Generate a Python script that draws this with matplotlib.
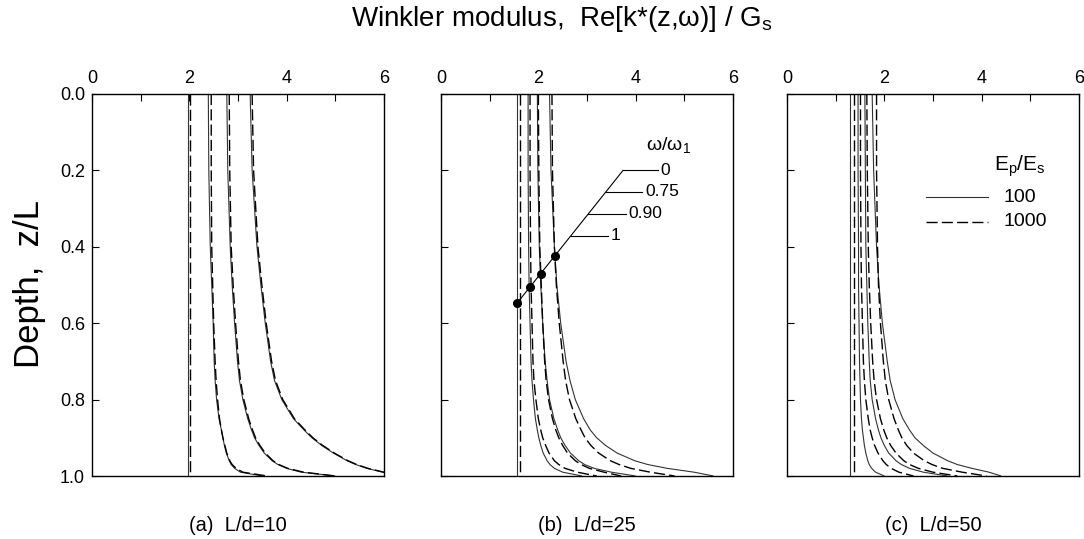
import numpy as np
import matplotlib.pyplot as plt
from matplotlib.ticker import MultipleLocator

plt.rcParams['font.family'] = ['Liberation Sans', 'DejaVu Sans']

# depth grid, z/L
z = [0, 0.2, 0.4, 0.5, 0.6, 0.7, 0.75, 0.8, 0.85, 0.88, 0.9, 0.92, 0.94, 0.96, 0.97, 0.98, 0.99, 1.0]

# (a) L/d = 10 ; keys: omega/omega1, Ep/Es = 100 (solid) / 1000 (dashed)
a_w0_100 = [1.97] * 18
a_w0_1000 = [2.02] * 18
a_w75_100 = [2.39, 2.40, 2.43, 2.46, 2.49, 2.51, 2.53, 2.56, 2.61, 2.66, 2.69, 2.72, 2.76, 2.82, 2.86, 2.93, 3.05, 3.5]
a_w75_1000 = [2.45, 2.45, 2.46, 2.48, 2.50, 2.53, 2.55, 2.58, 2.62, 2.66, 2.69, 2.73, 2.77, 2.83, 2.88, 2.96, 3.1, 3.6]
a_w90_100 = [2.77, 2.79, 2.84, 2.88, 2.93, 2.99, 3.03, 3.10, 3.20, 3.28, 3.34, 3.43, 3.54, 3.70, 3.82, 4.0, 4.3, 5.0]
a_w90_1000 = [2.82, 2.83, 2.86, 2.90, 2.95, 3.01, 3.05, 3.12, 3.22, 3.30, 3.36, 3.45, 3.56, 3.72, 3.84, 4.02, 4.35, 5.0]
a_w1_100 = [3.25, 3.29, 3.39, 3.47, 3.56, 3.67, 3.75, 3.90, 4.14, 4.36, 4.52, 4.72, 4.96, 5.24, 5.42, 5.65, 5.97, 6.3]
a_w1_1000 = [3.29, 3.32, 3.41, 3.49, 3.58, 3.69, 3.77, 3.92, 4.16, 4.38, 4.54, 4.74, 4.98, 5.26, 5.44, 5.67, 6.0, 6.3]

# (b) L/d = 25
b_w0_100 = [1.56] * 18
b_w0_1000 = [1.63] * 18
b_w75_100 = [1.79, 1.79, 1.80, 1.81, 1.83, 1.85, 1.87, 1.90, 1.94, 1.98, 2.01, 2.05, 2.10, 2.18, 2.24, 2.33, 2.5, 2.9]
b_w75_1000 = [1.83, 1.83, 1.84, 1.85, 1.87, 1.89, 1.91, 1.95, 2.0, 2.05, 2.09, 2.15, 2.22, 2.33, 2.42, 2.55, 2.8, 3.2]
b_w90_100 = [1.98, 1.99, 2.02, 2.05, 2.09, 2.14, 2.18, 2.23, 2.32, 2.40, 2.46, 2.55, 2.66, 2.83, 2.95, 3.15, 3.5, 4.0]
b_w90_1000 = [2.0, 2.01, 2.03, 2.06, 2.09, 2.13, 2.16, 2.21, 2.29, 2.36, 2.42, 2.50, 2.60, 2.76, 2.88, 3.05, 3.35, 3.7]
b_w1_100 = [2.23, 2.26, 2.33, 2.38, 2.46, 2.57, 2.65, 2.76, 2.93, 3.07, 3.20, 3.38, 3.62, 3.98, 4.25, 4.65, 5.2, 5.6]
b_w1_1000 = [2.28, 2.29, 2.33, 2.37, 2.43, 2.51, 2.56, 2.64, 2.77, 2.88, 2.96, 3.08, 3.24, 3.48, 3.66, 3.9, 4.3, 4.8]

# (c) L/d = 50
c_w0_100 = [1.30] * 18
c_w0_1000 = [1.37] * 18
c_w75_100 = [1.46, 1.46, 1.47, 1.47, 1.48, 1.49, 1.50, 1.51, 1.53, 1.55, 1.57, 1.59, 1.62, 1.66, 1.69, 1.74, 1.82, 2.0]
c_w75_1000 = [1.51, 1.51, 1.52, 1.53, 1.55, 1.57, 1.59, 1.62, 1.67, 1.71, 1.75, 1.80, 1.87, 1.97, 2.04, 2.14, 2.3, 2.6]
c_w90_100 = [1.60, 1.61, 1.62, 1.64, 1.66, 1.69, 1.71, 1.75, 1.82, 1.88, 1.93, 2.0, 2.09, 2.24, 2.35, 2.52, 2.8, 3.3]
c_w90_1000 = [1.64, 1.65, 1.67, 1.69, 1.72, 1.76, 1.79, 1.84, 1.92, 1.99, 2.05, 2.13, 2.24, 2.40, 2.52, 2.70, 3.0, 3.5]
c_w1_100 = [1.75, 1.78, 1.84, 1.89, 1.96, 2.06, 2.12, 2.22, 2.38, 2.52, 2.63, 2.80, 3.0, 3.30, 3.5, 3.8, 4.15, 4.4]
c_w1_1000 = [1.84, 1.84, 1.86, 1.88, 1.92, 1.98, 2.02, 2.09, 2.20, 2.29, 2.36, 2.46, 2.60, 2.82, 2.98, 3.2, 3.6, 4.1]

# frequency markers in panel (b)
dot_x = [1.56, 1.82, 2.05, 2.34]
dot_z = [0.548, 0.505, 0.472, 0.425]
freq_labels = ['0', '0.75', '0.90', '1']
freq_label_z = [0.2, 0.256, 0.314, 0.371]
freq_line_end = [4.45, 4.14, 3.80, 3.43]

panels = [
    ('(a)  L/d=10', [a_w0_100, a_w75_100, a_w90_100, a_w1_100], [a_w0_1000, a_w75_1000, a_w90_1000, a_w1_1000]),
    ('(b)  L/d=25', [b_w0_100, b_w75_100, b_w90_100, b_w1_100], [b_w0_1000, b_w75_1000, b_w90_1000, b_w1_1000]),
    ('(c)  L/d=50', [c_w0_100, c_w75_100, c_w90_100, c_w1_100], [c_w0_1000, c_w75_1000, c_w90_1000, c_w1_1000]),
]

fig = plt.figure(figsize=(10.84, 5.39), dpi=100)
lefts = [92, 441, 787]
axes = []
for i, (label, solids, dashes) in enumerate(panels):
    ax = fig.add_axes([lefts[i] / 1084, 63 / 539, 292 / 1084, 382 / 539])
    for xs in solids:
        ax.plot(xs, z, color='#333333', lw=0.8, solid_capstyle='butt')
    for xs in dashes:
        ax.plot(xs, z, color='black', lw=1.0, dashes=(8, 3))
    ax.set_xlim(0, 6)
    ax.set_ylim(1.0, 0.0)
    ax.xaxis.set_major_locator(MultipleLocator(2))
    ax.xaxis.set_minor_locator(MultipleLocator(1))
    ax.yaxis.set_major_locator(MultipleLocator(0.2))
    ax.tick_params(which='both', direction='in', top=True, bottom=False, labeltop=True,
                   labelbottom=False, right=False, labelsize=13, pad=5)
    ax.tick_params(which='major', length=5, width=0.8)
    ax.tick_params(which='minor', length=5, width=0.8)
    ax.xaxis.set_ticks_position('top')
    if i == 0:
        ax.yaxis.set_major_formatter(plt.FormatStrFormatter('%.1f'))
    else:
        ax.tick_params(axis='y', labelleft=False)
    for s in ax.spines.values():
        s.set_linewidth(1.0)
    ax.text(0.5, -0.13, label, transform=ax.transAxes, ha='center', va='center', fontsize=14.5)
    axes.append(ax)

# panel (b) frequency annotation
axb = axes[1]
axb.plot(dot_x, dot_z, 'o', color='black', ms=5.5)
axb.plot([dot_x[0], 3.74], [dot_z[0], 0.2], color='black', lw=0.8)
slope = (dot_z[0] - 0.2) / (3.74 - dot_x[0])
for lab, lz, lx in zip(freq_labels, freq_label_z, freq_line_end):
    x0 = dot_x[0] + (dot_z[0] - lz) / slope
    axb.plot([x0, lx], [lz, lz], color='black', lw=0.8)
    axb.text(lx + 0.05, lz, lab, ha='left', va='center', fontsize=12.5)
axb.text(4.22, 0.135, 'ω/ω$_\\mathregular{1}$', ha='left', va='center', fontsize=14)

# panel (c) legend
axc = axes[2]
axc.text(4.25, 0.19, r'E$_\mathregular{p}$/E$_\mathregular{s}$', ha='left', va='center', fontsize=15)
axc.plot([2.85, 4.14], [0.27, 0.27], color='#333333', lw=0.8)
axc.plot([2.85, 4.14], [0.335, 0.335], color='black', lw=1.0, dashes=(8, 3))
axc.text(4.45, 0.27, '100', ha='left', va='center', fontsize=14)
axc.text(4.45, 0.335, '1000', ha='left', va='center', fontsize=14)

fig.text(562 / 1084, 1 - 19 / 539, r'Winkler modulus,  Re[k*(z,ω)] / G$_\mathregular{s}$',
         ha='center', va='center', fontsize=20)
fig.text(30 / 1084, 1 - 284 / 539, 'Depth,  z/L', rotation=90, ha='center', va='center', fontsize=25)

fig.savefig('out.png', dpi=100)
